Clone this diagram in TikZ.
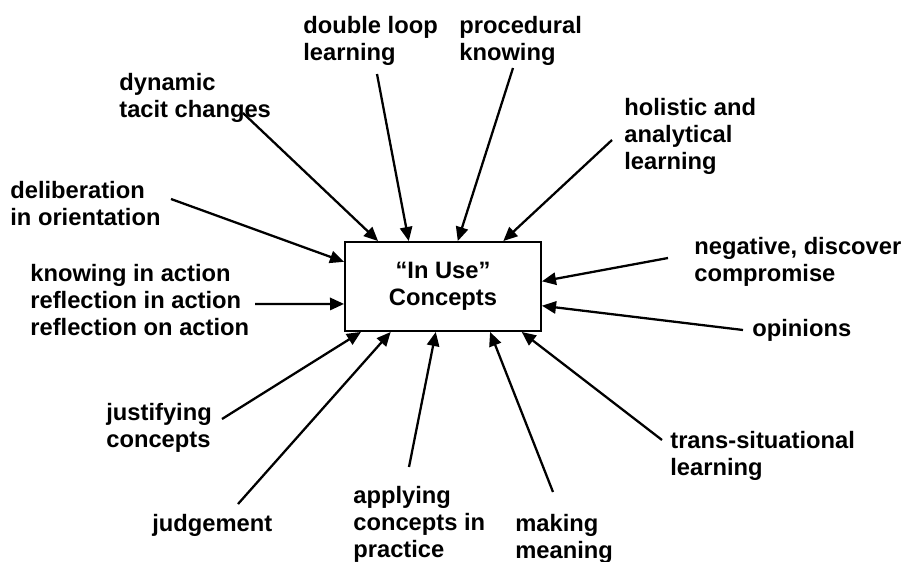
\documentclass[tikz,border=0pt]{standalone}
\usepackage{fontspec}
\setmainfont{Liberation Sans}
\usetikzlibrary{arrows.meta}

\newcommand{\lblfont}{\fontsize{13.5}{15.4}\selectfont\bfseries}

\begin{document}
\begin{tikzpicture}[
    x=0.02cm, y=-0.02cm,
    lbl/.style={font=\lblfont, align=left, anchor=north west, inner sep=0pt},
    concept/.style={draw, line width=1.1pt, minimum width=3.92cm, minimum height=1.78cm,
                    font=\lblfont, align=center, inner sep=0pt},
    arrow/.style={-{Triangle[length=8pt, width=7pt]}, line width=1.3pt},
]
\useasboundingbox (0,0) rectangle (909,561);

\node[concept] (use) at (443,286.5) {“In Use”\\Concepts};

% labels round the box
\node[lbl] (dbl) at (303,16) {double loop\\learning};
\node[lbl] (proc) at (459,16) {procedural\\knowing};
\node[lbl] (dyn) at (119,73) {dynamic\\tacit changes};
\node[lbl] (hol) at (624,98) {holistic and\\analytical\\learning};
\node[lbl] (delib) at (10,181) {deliberation\\in orientation};
\node[lbl] (know) at (30,264) {knowing in action\\reflection in action\\reflection on action};
\node[lbl] (neg) at (694,237) {negative, discover\\compromise};
\node[lbl] (opin) at (752,319) {opinions};
\node[lbl] (just) at (106,403) {justifying\\concepts};
\node[lbl] (trans) at (670,431) {trans-situational\\learning};
\node[lbl] (judg) at (152,514) {judgement};
\node[lbl] (apply) at (353,486) {applying\\concepts in\\practice};
\node[lbl] (mean) at (515,514) {making\\meaning};

% where the arrows start
\coordinate (dbl-s) at (377,74);
\coordinate (proc-s) at (513,68);
\coordinate (dyn-s) at (243,113);
\coordinate (hol-s) at (612,140);
\coordinate (delib-s) at (171,199);
\coordinate (know-s) at (255,304);
\coordinate (neg-s) at (668,258);
\coordinate (opin-s) at (743,330);
\coordinate (just-s) at (222,419);
\coordinate (trans-s) at (662,440);
\coordinate (judg-s) at (238,504);
\coordinate (apply-s) at (409,467);
\coordinate (mean-s) at (553,492);

% arrows into the box
\foreach \a/\ang in {dyn/145.1, dbl/127.7, proc/72.1, hol/37.8, delib/166, know/190.1,
                     neg/3.8, opin/-11.8, just/209.7, judg/221.7, apply/261.1,
                     mean/316, trans/330.6}{
    \draw[arrow] (\a-s) -- (use.\ang);
}

\end{tikzpicture}
\end{document}
